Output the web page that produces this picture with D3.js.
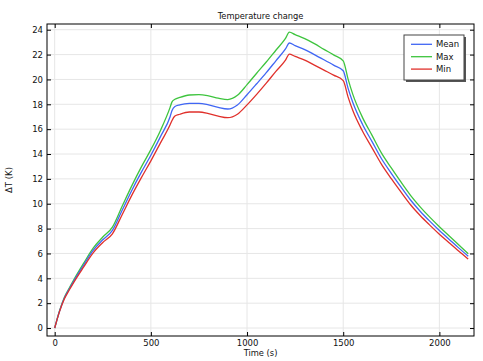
<!DOCTYPE html>
<html><head><meta charset="utf-8">
<script src="https://cdn.jsdelivr.net/npm/d3@7"></script>
<style>body{margin:0;background:#fff;} svg{display:block;font-family:"DejaVu Sans",sans-serif;}</style>
</head><body>
<svg id="c" width="483" height="361"></svg>
<script>
const times = [0,25,50,75,100,150,200,250,300,350,400,450,500,550,600,610,625,650,700,750,800,850,900,950,1000,1050,1100,1150,1200,1220,1250,1300,1350,1400,1450,1500,1525,1550,1600,1650,1700,1750,1800,1850,1900,1950,2000,2050,2100,2150];
const meanVals = [0,1.35,2.4,3.12,3.8,5.05,6.25,7.1,7.85,9.45,11.05,12.52,13.9,15.4,17.0,17.5,17.82,17.95,18.07,18.08,17.95,17.75,17.62,17.95,18.77,19.65,20.55,21.5,22.45,22.93,22.72,22.4,22.0,21.58,21.15,20.7,19.3,18.15,16.4,15.0,13.6,12.45,11.35,10.3,9.4,8.6,7.85,7.15,6.45,5.78];
const maxVals = [0,1.38,2.46,3.2,3.9,5.2,6.43,7.32,8.12,9.78,11.42,12.95,14.35,15.9,17.75,18.2,18.4,18.55,18.75,18.78,18.68,18.5,18.38,18.72,19.58,20.5,21.4,22.35,23.3,23.8,23.6,23.28,22.88,22.42,21.98,21.5,20.05,18.8,16.95,15.5,14.05,12.88,11.75,10.68,9.75,8.92,8.15,7.43,6.7,5.97];
const minVals = [0,1.32,2.34,3.04,3.7,4.9,6.05,6.88,7.58,9.1,10.65,12.08,13.45,14.9,16.35,16.7,17.05,17.2,17.38,17.38,17.25,17.05,16.92,17.2,17.95,18.8,19.7,20.65,21.55,22.04,21.85,21.55,21.15,20.75,20.35,19.9,18.6,17.5,15.85,14.5,13.15,12.02,10.95,9.92,9.05,8.28,7.55,6.87,6.2,5.55];
const seriesNames = ["Mean","Max","Min"];
const seriesColors = ["#4066f4","#3ec43e","#e0302b"];
const xTicks = [0,500,1000,1500,2000];
const yTicks = [0,2,4,6,8,10,12,14,16,18,20,22,24];

const svg = d3.select("#c");
const L=47, R=474, T=24, B=336;
const x = d3.scaleLinear().domain([-40,2180]).range([L,R]);
const y = d3.scaleLinear().domain([-0.64,24.46]).range([B,T]);

// grid
svg.append("g").selectAll("line").data(xTicks).join("line")
  .attr("x1",d=>x(d)).attr("x2",d=>x(d)).attr("y1",T).attr("y2",B)
  .attr("stroke","#e6e6e6").attr("stroke-width",1);
svg.append("g").selectAll("line").data(yTicks).join("line")
  .attr("y1",d=>y(d)).attr("y2",d=>y(d)).attr("x1",L).attr("x2",R)
  .attr("stroke","#e6e6e6").attr("stroke-width",1);

// lines
const all = [meanVals,maxVals,minVals];
const line = d3.line().x((d,i)=>x(times[i])).y(d=>y(d)).curve(d3.curveMonotoneX);
[1,0,2].forEach(k=>{
  svg.append("path").datum(all[k]).attr("d",line).attr("fill","none")
    .attr("stroke",seriesColors[k]).attr("stroke-width",1.3);
});

// axes with inward ticks
const tl=4;
svg.append("g").attr("transform",`translate(0,${B})`)
  .call(d3.axisBottom(x).tickValues(xTicks).tickSize(-tl).tickPadding(4).tickFormat(d3.format("d")))
  .call(g=>{g.select(".domain").remove(); g.selectAll("text").attr("font-size","8.5px").attr("font-family","DejaVu Sans").attr("fill","#111");});
svg.append("g").attr("transform",`translate(0,${T})`)
  .call(d3.axisTop(x).tickValues(xTicks).tickSize(-tl).tickFormat(""))
  .call(g=>g.select(".domain").remove());
svg.append("g").attr("transform",`translate(${L},0)`)
  .call(d3.axisLeft(y).tickValues(yTicks).tickSize(-tl).tickPadding(4).tickFormat(d3.format("d")))
  .call(g=>{g.select(".domain").remove(); g.selectAll("text").attr("font-size","8.5px").attr("font-family","DejaVu Sans").attr("fill","#111");});
svg.append("g").attr("transform",`translate(${R},0)`)
  .call(d3.axisRight(y).tickValues(yTicks).tickSize(-tl).tickFormat(""))
  .call(g=>g.select(".domain").remove());

svg.append("rect").attr("x",L).attr("y",T).attr("width",R-L).attr("height",B-T)
  .attr("fill","none").attr("stroke","#000").attr("stroke-width",1);

// titles
svg.append("text").attr("x",(L+R)/2).attr("y",19).attr("text-anchor","middle")
  .attr("font-size","8.3px").attr("fill","#111").text("Temperature change");
svg.append("text").attr("x",(L+R)/2).attr("y",356).attr("text-anchor","middle")
  .attr("font-size","8.3px").attr("fill","#111").text("Time (s)");
svg.append("text").attr("transform",`translate(12,${(T+B)/2}) rotate(-90)`).attr("text-anchor","middle")
  .attr("font-size","8.5px").attr("fill","#111").text("ΔT (K)");

// legend
const lg = svg.append("g");
lg.append("rect").attr("x",406).attr("y",37).attr("width",60).attr("height",45).attr("fill","#555");
lg.append("rect").attr("x",404).attr("y",35).attr("width",60).attr("height",45).attr("fill","#fff").attr("stroke","#444").attr("stroke-width",1);
seriesNames.forEach((n,i)=>{
  const yy = 44.3 + i*12.4;
  lg.append("line").attr("x1",411).attr("x2",432).attr("y1",yy).attr("y2",yy).attr("stroke",seriesColors[i]).attr("stroke-width",1.3);
  lg.append("text").attr("x",436).attr("y",yy+3).attr("font-size","8.5px").attr("fill","#111").text(n);
});
</script>
</body></html>
